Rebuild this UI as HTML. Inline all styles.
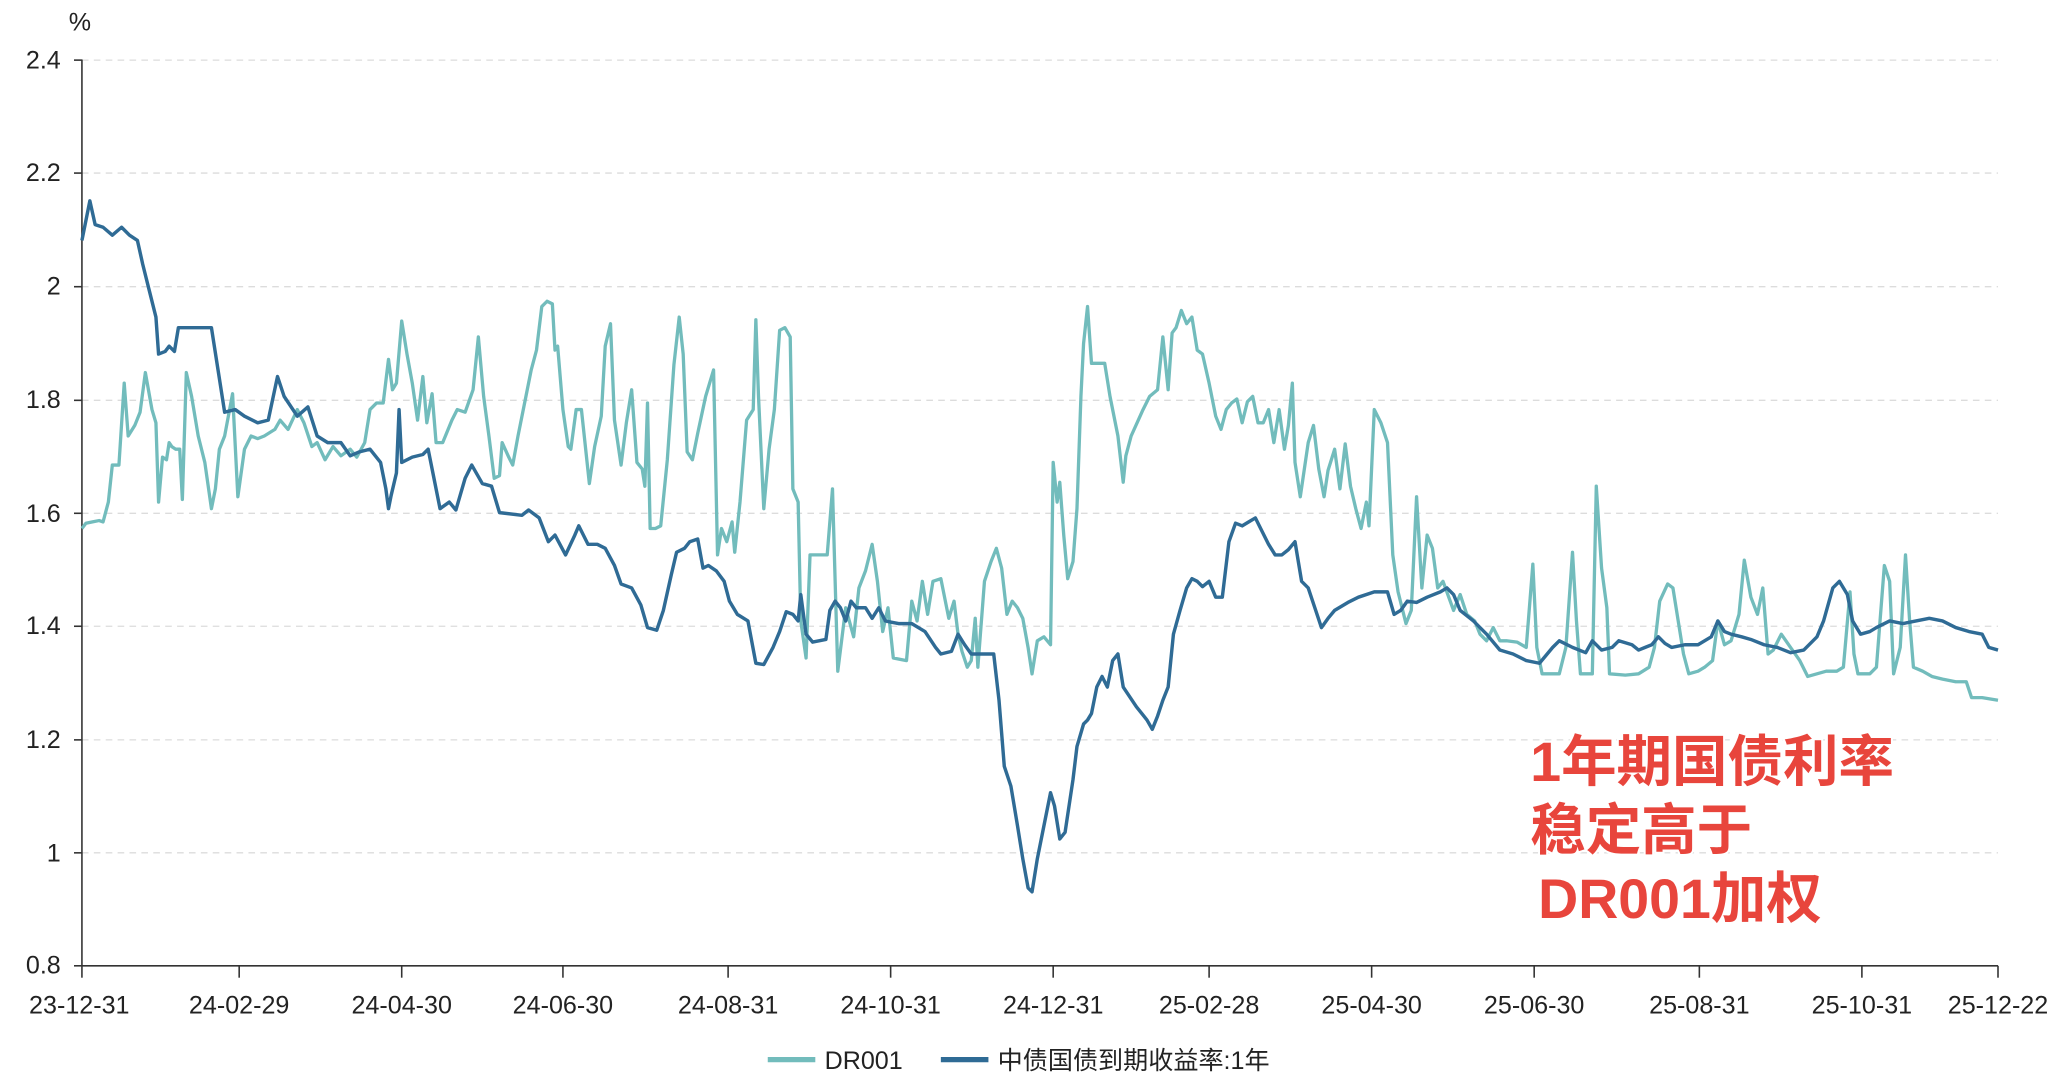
<!DOCTYPE html>
<html><head><meta charset="utf-8"><style>
html,body{margin:0;padding:0;background:#fff;}
svg{display:block;}
text{font-family:"Liberation Sans","Noto Sans CJK SC",sans-serif;}
</style></head><body>
<svg width="2072" height="1090" viewBox="0 0 1568 825" preserveAspectRatio="none" xmlns="http://www.w3.org/2000/svg">
<g stroke="#dcdcdc" stroke-width="1" stroke-dasharray="5,4">
<line x1="62" x2="1512" y1="45.5" y2="45.5"/><line x1="62" x2="1512" y1="131" y2="131"/><line x1="62" x2="1512" y1="217" y2="217"/><line x1="62" x2="1512" y1="303" y2="303"/><line x1="62" x2="1512" y1="388.5" y2="388.5"/><line x1="62" x2="1512" y1="474" y2="474"/><line x1="62" x2="1512" y1="560" y2="560"/><line x1="62" x2="1512" y1="645.5" y2="645.5"/>
</g>
<g stroke="#333" stroke-width="1.2">
<line x1="62" x2="62" y1="45" y2="731"/><line x1="62" x2="1512" y1="731" y2="731"/>
<line x1="56" x2="62" y1="45.5" y2="45.5"/><line x1="56" x2="62" y1="131" y2="131"/><line x1="56" x2="62" y1="217" y2="217"/><line x1="56" x2="62" y1="303" y2="303"/><line x1="56" x2="62" y1="388.5" y2="388.5"/><line x1="56" x2="62" y1="474" y2="474"/><line x1="56" x2="62" y1="560" y2="560"/><line x1="56" x2="62" y1="645.5" y2="645.5"/><line x1="56" x2="62" y1="731" y2="731"/>
<line x1="62" x2="62" y1="731" y2="740"/><line x1="181" x2="181" y1="731" y2="740"/><line x1="304" x2="304" y1="731" y2="740"/><line x1="426" x2="426" y1="731" y2="740"/><line x1="551" x2="551" y1="731" y2="740"/><line x1="674" x2="674" y1="731" y2="740"/><line x1="797" x2="797" y1="731" y2="740"/><line x1="915" x2="915" y1="731" y2="740"/><line x1="1038" x2="1038" y1="731" y2="740"/><line x1="1161" x2="1161" y1="731" y2="740"/><line x1="1286" x2="1286" y1="731" y2="740"/><line x1="1409" x2="1409" y1="731" y2="740"/><line x1="1512" x2="1512" y1="731" y2="740"/>
</g>
<g font-size="19" fill="#222" text-anchor="end">
<text x="46" y="52">2.4</text><text x="46" y="137">2.2</text><text x="46" y="223">2</text><text x="46" y="309">1.8</text><text x="46" y="395">1.6</text><text x="46" y="480">1.4</text><text x="46" y="566">1.2</text><text x="46" y="652">1</text><text x="46" y="737">0.8</text>
</g>
<text x="52" y="23" font-size="19" fill="#222">%</text>
<g font-size="19" fill="#222" text-anchor="middle">
<text x="60" y="767">23-12-31</text><text x="181" y="767">24-02-29</text><text x="304" y="767">24-04-30</text><text x="426" y="767">24-06-30</text><text x="551" y="767">24-08-31</text><text x="674" y="767">24-10-31</text><text x="797" y="767">24-12-31</text><text x="915" y="767">25-02-28</text><text x="1038" y="767">25-04-30</text><text x="1161" y="767">25-06-30</text><text x="1286" y="767">25-08-31</text><text x="1409" y="767">25-10-31</text><text x="1512" y="767">25-12-22</text>
</g>
<polyline fill="none" stroke="#72bcbc" stroke-width="2.5" stroke-linejoin="round" points="62,400 65,396 70,395 75,394 78,395 82,380 85,352 90,352 94,290 97,330 102,322 106,312 110,282 115,310 118,320 120,380 123,346 126,348 128,335 130,338 133,340 136,340 138,378 141,282 145,300 150,330 155,350 160,385 163,370 166,340 170,330 176,298 180,376 185,340 190,330 195,332 200,330 208,325 212,318 218,325 225,310 230,320 236,338 240,335 246,348 252,338 258,345 265,340 270,346 276,335 280,310 285,305 290,305 294,272 297,295 300,290 304,243 308,268 312,290 316,318 320,285 323,320 327,298 330,335 335,335 342,318 346,310 352,312 358,295 362,255 366,300 370,330 374,362 378,360 380,335 385,346 388,352 392,330 398,300 402,280 406,265 410,232 414,228 418,230 420,265 422,262 426,310 430,338 432,340 436,310 440,310 446,366 450,338 455,315 458,262 462,245 465,318 470,352 474,320 478,295 482,350 486,355 488,368 490,305 492,400 496,400 500,398 505,348 510,276 514,240 517,268 520,342 524,348 528,328 534,300 540,280 543,420 546,400 550,410 554,395 556,418 560,380 565,318 570,310 572,242 574,300 578,385 582,340 586,310 590,250 594,248 598,255 600,370 604,380 606,470 610,498 613,420 620,420 626,420 630,370 632,440 634,508 640,460 646,482 650,445 655,432 660,412 664,440 668,478 672,460 676,498 686,500 690,455 694,470 698,440 702,465 706,440 712,438 718,468 722,455 725,480 728,493 732,505 735,500 738,468 740,505 745,440 750,425 754,415 758,430 762,465 766,455 770,460 774,468 778,490 781,510 785,485 790,482 795,488 797,350 800,380 802,365 805,405 808,438 812,425 815,385 818,300 820,260 823,232 826,275 830,275 836,275 840,300 846,330 850,365 852,345 856,330 865,310 870,300 876,295 880,255 884,295 887,252 890,248 894,235 898,245 902,240 906,265 910,268 915,290 920,315 924,325 928,310 932,305 936,302 940,320 944,304 948,300 952,320 956,320 960,310 964,335 968,310 972,340 975,322 978,290 980,350 984,376 990,335 994,322 998,355 1002,376 1005,356 1010,340 1014,370 1018,336 1022,368 1026,385 1030,400 1034,380 1036,398 1040,310 1045,320 1050,335 1054,420 1058,448 1064,472 1068,462 1072,376 1076,445 1080,405 1084,415 1088,445 1092,440 1100,462 1105,450 1110,465 1116,470 1120,480 1125,485 1130,475 1135,485 1140,485 1148,486 1155,490 1160,427 1163,490 1167,510 1180,510 1185,490 1190,418 1193,470 1196,510 1205,510 1208,368 1212,430 1216,460 1218,510 1230,511 1240,510 1248,505 1252,490 1256,455 1262,442 1266,445 1270,470 1274,495 1278,510 1285,508 1290,505 1296,500 1300,470 1305,488 1310,485 1316,465 1320,424 1325,452 1330,465 1334,445 1338,495 1342,492 1348,480 1355,490 1362,500 1368,512 1375,510 1382,508 1390,508 1395,505 1400,448 1403,495 1406,510 1415,510 1420,505 1426,428 1430,440 1433,510 1438,490 1442,420 1445,468 1448,505 1455,508 1462,512 1470,514 1480,516 1488,516 1492,528 1500,528 1512,530"/>
<polyline fill="none" stroke="#2f6b95" stroke-width="2.6" stroke-linejoin="round" points="62,182 68,152 72,170 78,172 85,178 92,172 98,178 104,182 108,200 113,220 118,240 120,268 125,266 128,262 132,266 135,248 160,248 165,280 170,312 178,310 185,315 195,320 203,318 210,285 215,300 225,315 233,308 240,330 248,335 258,335 265,345 272,342 280,340 288,350 292,370 294,385 296,375 300,358 302,310 304,350 312,346 320,344 324,340 328,360 333,385 340,380 345,386 352,362 357,352 365,366 372,368 378,388 395,390 400,386 408,392 415,410 420,405 428,420 435,405 438,398 445,412 452,412 458,415 465,428 470,442 478,445 485,458 490,475 497,477 502,462 508,435 512,418 518,415 522,410 528,408 532,430 536,428 542,432 548,440 552,455 558,465 566,470 572,502 578,503 585,490 590,478 595,463 600,465 604,470 606,450 610,480 615,486 625,484 628,462 632,455 636,460 640,470 644,455 648,460 655,460 660,468 665,460 670,470 680,472 690,472 700,478 708,490 712,495 720,493 725,480 730,488 735,495 740,495 752,495 756,530 760,580 765,595 770,625 774,650 778,672 781,675 785,650 790,625 795,600 798,610 802,635 806,630 812,590 815,565 820,548 823,545 826,540 830,520 834,512 838,520 842,500 846,495 850,520 860,535 868,545 872,552 876,542 880,530 884,520 888,480 893,462 898,445 902,438 906,440 910,444 915,440 920,452 925,452 930,410 935,396 940,398 945,395 950,392 955,402 960,412 965,420 970,420 975,416 980,410 985,440 990,445 995,460 1000,475 1005,468 1010,462 1020,456 1028,452 1040,448 1050,448 1055,465 1060,462 1065,455 1072,456 1080,452 1090,448 1095,445 1100,450 1105,462 1115,470 1125,480 1135,492 1145,495 1155,500 1165,502 1175,490 1180,485 1190,490 1200,494 1205,485 1212,492 1220,490 1225,485 1235,488 1240,492 1245,490 1250,488 1255,482 1260,487 1265,490 1275,488 1285,488 1295,482 1300,470 1305,478 1310,480 1318,482 1325,484 1335,488 1345,490 1355,494 1365,492 1375,482 1380,470 1387,445 1392,440 1398,450 1402,470 1408,480 1415,478 1420,475 1430,470 1440,472 1450,470 1460,468 1470,470 1480,475 1490,478 1500,480 1505,490 1512,492"/>
<g font-size="42" font-weight="bold" fill="#e8453c" style="paint-order:stroke" stroke="#fff" stroke-width="3">
<text x="1158" y="591">1年期国债利率</text>
<text x="1158" y="643">稳定高于</text>
<text x="1164" y="695">DR001加权</text>
</g>
<line x1="581" x2="617" y1="802" y2="802" stroke="#72bcbc" stroke-width="4"/>
<text x="624" y="809" font-size="19" fill="#222">DR001</text>
<line x1="712" x2="748" y1="802" y2="802" stroke="#2f6b95" stroke-width="4"/>
<text x="755" y="809" font-size="19" fill="#222">中债国债到期收益率:1年</text>
</svg>
</body></html>
